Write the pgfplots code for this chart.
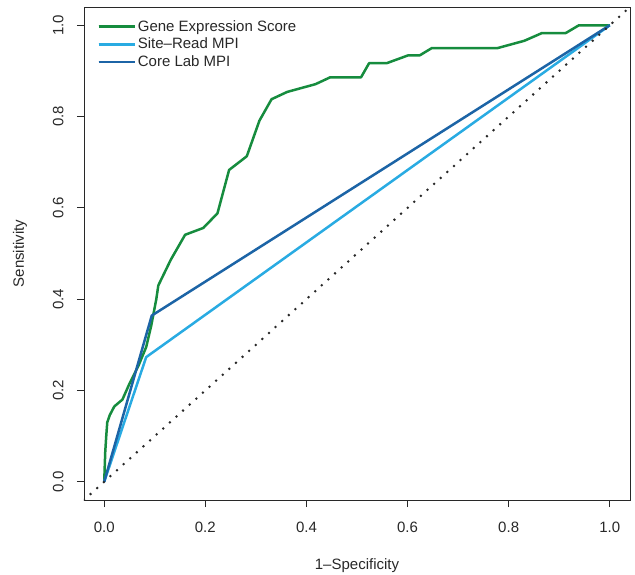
\documentclass[border=0pt]{standalone}
\usepackage{fontspec}
\setmainfont{Liberation Sans}
\usepackage{pgfplots}
\pgfplotsset{compat=1.18}
\definecolor{ggreen}{RGB}{22,140,62}
\definecolor{lblue}{RGB}{41,171,226}
\definecolor{dblue}{RGB}{28,100,166}
\definecolor{axgray}{RGB}{40,40,40}
\begin{document}
\begin{tikzpicture}
\useasboundingbox (0,0) rectangle (635pt,574pt);
\begin{axis}[
  at={(84pt,74pt)}, anchor=south west,
  scale only axis, width=546pt, height=493pt,
  xmin=-0.04, xmax=1.04, ymin=-0.04, ymax=1.04,
  xtick={0,0.2,0.4,0.6,0.8,1.0}, ytick={0,0.2,0.4,0.6,0.8,1.0},
  xticklabels={0.0,0.2,0.4,0.6,0.8,1.0}, yticklabels={0.0,0.2,0.4,0.6,0.8,1.0},
  tick align=outside, tick pos=left, major tick length=7pt,
  axis line style={axgray, line width=0.8pt},
  every tick/.style={axgray, line width=0.8pt},
  /pgf/number format/assume math mode=true,
  tick label style={font=\fontsize{15}{18}\selectfont, text=axgray},
  yticklabel style={rotate=90, anchor=south},
  xticklabel shift=11pt, yticklabel shift=10pt,
  label style={font=\fontsize{15}{18}\selectfont, text=axgray},
  xlabel={1\textendash Specificity}, ylabel={Sensitivity},
  xlabel style={at={(rel axis cs:0.5,-0.133)}, anchor=center},
  ylabel style={at={(rel axis cs:-0.117,0.5)}, anchor=center, rotate=0},
  legend style={draw=none, fill=none, at={(rel axis cs:0.024,0.977)}, anchor=north west,
    font=\fontsize{15}{18}\selectfont, text=axgray, row sep=1.2pt, inner sep=0pt},
  legend cell align=left,
  legend image code/.code={\draw[#1, line width=2.6pt] (0pt,0pt) -- (29pt,0pt); \path (0pt,0pt) -- (36pt,0pt);},
]
\addplot[ggreen, line width=2.5pt, line join=round] coordinates {
(0,0) (0.002,0.065) (0.004,0.10) (0.006,0.13) (0.011,0.146) (0.02,0.165) (0.036,0.18)
(0.05,0.215) (0.068,0.255) (0.083,0.295) (0.093,0.342) (0.103,0.40) (0.107,0.43)
(0.132,0.487) (0.16,0.541) (0.196,0.556) (0.224,0.588) (0.247,0.683) (0.282,0.713)
(0.307,0.791) (0.331,0.838) (0.362,0.854) (0.418,0.871) (0.447,0.886) (0.508,0.886)
(0.524,0.917) (0.559,0.917) (0.601,0.934) (0.624,0.934) (0.648,0.95) (0.778,0.95)
(0.831,0.966) (0.866,0.983) (0.913,0.983) (0.939,1.0) (1,1)};
\addlegendentry{Gene Expression Score}
\addplot[lblue, line width=2.5pt, line join=round] coordinates {(0,0) (0.083,0.273) (1,1)};
\addlegendentry{Site\textendash Read MPI}
\addplot[dblue, line width=2.5pt, line join=round] coordinates {(0,0) (0.094,0.364) (1,1)};
\addlegendentry{Core Lab MPI}
\addplot[axgray, line width=2.8pt, line cap=round, dash pattern=on 0pt off 8.9pt, forget plot] coordinates {(-0.04,-0.04) (1.04,1.04)};
\end{axis}
\end{tikzpicture}
\end{document}
